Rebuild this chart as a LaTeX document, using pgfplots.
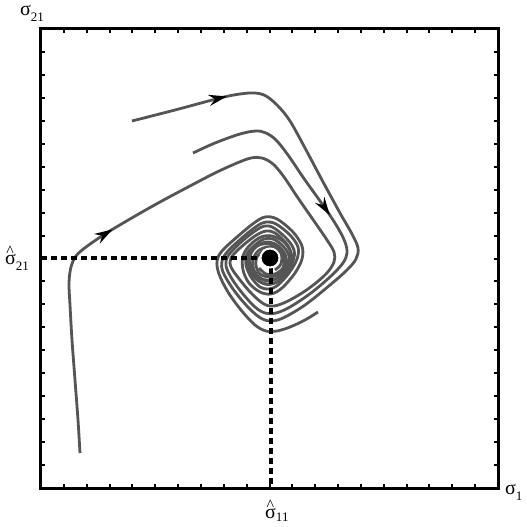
\documentclass[border=0pt]{standalone}
\usepackage{fontspec}
\setmainfont{Liberation Serif}
\usepackage{pgfplots}
\pgfplotsset{compat=1.18}
\usetikzlibrary{decorations.markings,arrows.meta}
\definecolor{traj}{RGB}{85,85,85}
\tikzset{
  trajstyle/.style={traj, line width=2.8pt, smooth, tension=0.55, no markers},
  arr/.style={postaction={decorate}, decoration={markings, mark=at position #1 with {\arrow{Stealth[length=18pt,width=11pt,inset=6pt,color=black]}}}}
}
\newcommand{\hatsig}{\makebox[0pt][l]{\hspace{1.3pt}\raisebox{8pt}[0pt][0pt]{\fontsize{16}{16}\selectfont\textasciicircum}}σ}
\begin{document}
\begin{tikzpicture}
\useasboundingbox (-41pt,-39pt) rectangle (486pt,488pt);
\begin{axis}[
  at={(0,0)}, anchor=south west,
  width=457pt, height=459pt, scale only axis,
  xmin=41, xmax=498, ymin=29, ymax=488, y dir=reverse,
  axis line style={line width=3pt, black},
  xtick={41,63.85,...,498}, ytick={29,51.95,...,488},
  xticklabels={}, yticklabels={},
  tick align=inside, major tick length=3.8pt,
  tick style={line width=2pt, black},
  clip=false,
]
% trajectory A
\addplot[trajstyle, arr=98pt] coordinates {
(132,121) (175,110) (220,98) (240,94) (255,93) (266,96) (278,106) (290,121) (305,148) (322,180) (340,213) (352,234) (358,248) (356,259) (347,270) (330,285) (305,305) (283,318) (270,321) (259,317) (246,305) (233,289) (223,272) (222,261) (228,251) (243,237) (257,226) (266,222) (276,224) (290,235) (298,247) (297,259) (289,273) (278,285) (269,289) (260,287) (251,277) (246,265) (247,254) (255,245) (264,239) (273,239) (283,246) (289,256) (287,267) (279,277) (269,281) (260,278) (254,270) (253,260) (258,251) (267,247) (275,248) (281,255) (281,264) (275,270)
};
% trajectory B
\addplot[trajstyle, arr=182pt] coordinates {
(193,153) (215,143) (240,134) (256,131) (266,133) (276,140) (288,155) (305,180) (325,208) (338,228) (345,242) (347,253) (343,263) (331,276) (311,293) (290,307) (276,313) (265,313) (255,307) (243,294) (232,279) (226,266) (228,256) (240,243) (255,231) (265,226) (274,228) (287,239) (294,250) (293,261) (285,275) (275,283) (265,284) (255,277) (249,266) (250,255) (257,246) (267,242) (277,245) (285,254) (286,265) (279,274) (269,277) (260,274) (256,266) (257,257) (263,251)
};
% trajectory C
\addplot[trajstyle, arr=244pt] coordinates {
(80,453) (78,420) (75,380) (72,340) (70,305) (69,283) (71,267) (76,256) (86,247) (105,234) (130,219) (160,202) (190,186) (215,173) (237,163) (251,158) (262,158) (273,164) (284,177) (298,198) (314,221) (327,240) (334,252) (334,262) (326,274) (308,289) (288,301) (274,306) (264,304) (252,294) (240,280) (231,267) (231,258) (240,248) (255,236) (266,231) (275,233) (286,243) (291,253) (289,264) (282,275) (272,280) (262,279) (254,272) (250,262) (252,251) (260,244) (271,243) (281,249) (285,259) (283,268) (275,274) (266,274) (259,268)
};
% trajectory D
\addplot[trajstyle] coordinates {
(318,312) (305,320) (290,327) (277,331) (266,331) (255,325) (241,310) (228,292) (219,274) (217,261) (222,251) (237,237) (254,223) (265,217) (277,219) (293,232) (302,246) (302,259) (295,273) (282,288) (271,294) (260,292) (249,283) (243,270) (243,256) (250,245) (261,237) (272,236) (284,242) (291,253) (291,266) (283,278) (271,284) (260,282) (251,273) (248,262) (251,251) (259,245) (269,244) (279,249) (284,258) (283,268) (277,275)
};
% dashed guides
\addplot[black, line width=3.2pt, dash pattern=on 6pt off 4pt] coordinates {(41,258) (271,258)};
\addplot[black, line width=3.2pt, dash pattern=on 6pt off 4pt] coordinates {(271,258) (271,488)};
% equilibrium
\addplot[only marks, mark=*, mark size=9.5pt, mark options={fill=black, draw=white, line width=2pt}] coordinates {(270,258)};
% labels
\node[anchor=base west, inner sep=0, font=\fontsize{20}{20}\selectfont] at (axis cs:20,16) {σ\raisebox{-6pt}{\fontsize{13}{13}\selectfont 21}};
\node[anchor=base west, inner sep=0, font=\fontsize{20}{20}\selectfont] at (axis cs:505,494) {σ\raisebox{-6pt}{\fontsize{13}{13}\selectfont 1}};
\node[anchor=base west, inner sep=0, font=\fontsize{20}{20}\selectfont] at (axis cs:5,264) {\hatsig\raisebox{-6pt}{\fontsize{13}{13}\selectfont 21}};
\node[anchor=base west, inner sep=0, font=\fontsize{20}{20}\selectfont] at (axis cs:265,518) {\hatsig\raisebox{-3pt}{\fontsize{13}{13}\selectfont 11}};
\end{axis}
\end{tikzpicture}
\end{document}
